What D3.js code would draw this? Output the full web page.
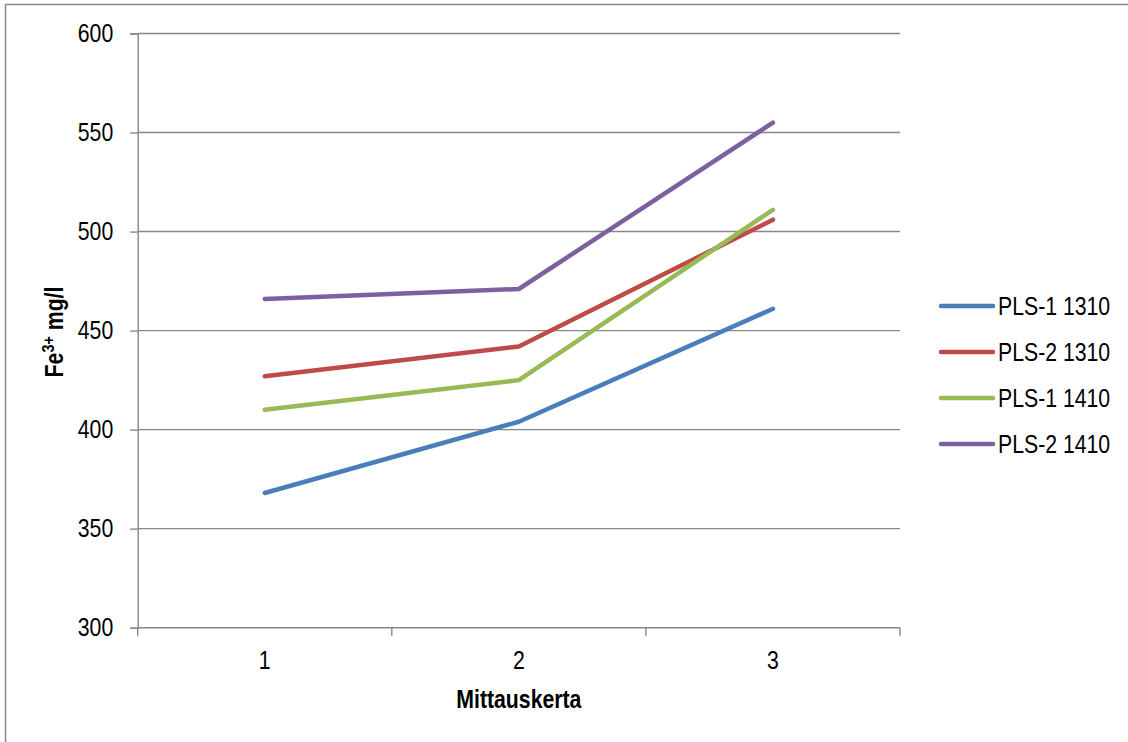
<!DOCTYPE html>
<html>
<head>
<meta charset="utf-8">
<script src="https://cdn.jsdelivr.net/npm/d3@7"></script>
<style>
  html, body { margin: 0; padding: 0; background: #fff; }
  svg { display: block; }
  text { font-family: "Liberation Sans Narrow", "Arial Narrow", "Liberation Sans", Arial, sans-serif; fill: #000; }
</style>
</head>
<body>
<svg id="chart" width="1128" height="742"></svg>
<script>
// Measurement rounds (x axis categories)
const categories = ["1", "2", "3"];
// Fe3+ concentration, mg/l, per series
const seriesNames = ["PLS-1 1310", "PLS-2 1310", "PLS-1 1410", "PLS-2 1410"];
const pls1_1310 = [368, 404, 461];
const pls2_1310 = [427, 442, 506];
const pls1_1410 = [410, 425, 511];
const pls2_1410 = [466, 471, 555];
const seriesColors = ["#4A7EBB", "#BE4B48", "#98B954", "#7D60A0"];
const yTicks = [300, 350, 400, 450, 500, 550, 600];

const series = [pls1_1310, pls2_1310, pls1_1410, pls2_1410].map((vals, i) => ({
  name: seriesNames[i], color: seriesColors[i], values: vals
}));

const svg = d3.select("#chart");
const W = 1128, H = 742;
const plot = { left: 137.7, right: 900, top: 33.5, bottom: 627.7 };
const gridColor = "#878787";
const fontSize = 25;
const narrow = 0.85; // horizontal condensing for a narrow-face look

// Squeeze a text horizontally around its anchor point
function condense(sel) {
  sel.each(function () {
    const t = d3.select(this);
    const tx = +t.attr("x") || 0, ty = +t.attr("y") || 0;
    const prev = t.attr("transform") || "";
    t.attr("x", 0).attr("y", 0)
      .attr("transform", `${prev} translate(${tx},${ty}) scale(${narrow},1)`);
  });
}

// Outer chart frame (only top and left edges fall within the canvas)
svg.append("rect")
  .attr("x", 5.5).attr("y", 4.5)
  .attr("width", W + 20).attr("height", H + 20)
  .attr("fill", "#fff").attr("stroke", gridColor).attr("stroke-width", 1.5);

const x = d3.scaleBand().domain(categories).range([plot.left, plot.right]);
const y = d3.scaleLinear().domain([300, 600]).range([plot.bottom, plot.top]);

// Horizontal gridlines
svg.append("g").selectAll("line").data(yTicks.filter(t => t !== 300)).join("line")
  .attr("x1", plot.left).attr("x2", plot.right)
  .attr("y1", d => y(d)).attr("y2", d => y(d))
  .attr("stroke", gridColor).attr("stroke-width", 1.4);

// Y axis
const yAxis = svg.append("g")
  .attr("transform", `translate(${plot.left},0)`)
  .call(d3.axisLeft(y).tickValues(yTicks).tickSize(7.5).tickPadding(17).tickFormat(d3.format("d")));
yAxis.select(".domain").attr("stroke", gridColor).attr("stroke-width", 1.4);
yAxis.selectAll(".tick line").attr("stroke", gridColor).attr("stroke-width", 1.4);
yAxis.selectAll(".tick text")
  .attr("font-size", fontSize).attr("font-family", null).attr("fill", "#000")
  .call(condense);

// X axis: ticks sit on the band boundaries, labels at band centres
const bounds = categories.map(c => x(c)).concat([x(categories[categories.length - 1]) + x.bandwidth()]);
const xAxisG = svg.append("g");
xAxisG.append("line")
  .attr("x1", plot.left).attr("x2", plot.right)
  .attr("y1", plot.bottom).attr("y2", plot.bottom)
  .attr("stroke", gridColor).attr("stroke-width", 1.4);
xAxisG.selectAll("line.tk").data(bounds).join("line").attr("class", "tk")
  .attr("x1", d => d).attr("x2", d => d)
  .attr("y1", plot.bottom).attr("y2", plot.bottom + 8)
  .attr("stroke", gridColor).attr("stroke-width", 1.4);
xAxisG.selectAll("text").data(categories).join("text")
  .attr("x", d => x(d) + x.bandwidth() / 2)
  .attr("y", 669)
  .attr("text-anchor", "middle")
  .attr("font-size", fontSize)
  .text(d => d)
  .call(condense);

// Axis titles
svg.append("text")
  .attr("x", (plot.left + plot.right) / 2).attr("y", 708)
  .attr("text-anchor", "middle").attr("font-weight", "bold").attr("font-size", fontSize)
  .text("Mittauskerta")
  .call(condense);

const yTitle = svg.append("text")
  .attr("transform", `translate(63,332) rotate(-90) scale(${narrow},1)`)
  .attr("text-anchor", "middle").attr("font-weight", "bold").attr("font-size", fontSize);
yTitle.append("tspan").text("Fe");
yTitle.append("tspan").attr("dy", -9).attr("font-size", 17).text("3+");
yTitle.append("tspan").attr("dy", 9).text(" mg/l");

// Series lines
const line = d3.line()
  .x((d, i) => x(categories[i]) + x.bandwidth() / 2)
  .y(d => y(d));
svg.append("g").selectAll("path").data(series).join("path")
  .attr("d", d => line(d.values))
  .attr("fill", "none")
  .attr("stroke", d => d.color)
  .attr("stroke-width", 4.5)
  .attr("stroke-linecap", "round")
  .attr("stroke-linejoin", "round");

// Legend
const legend = svg.append("g");
const legY = d3.scalePoint().domain(seriesNames).range([306, 444]);
const items = legend.selectAll("g").data(series).join("g")
  .attr("transform", d => `translate(0,${legY(d.name)})`);
items.append("line")
  .attr("x1", 941).attr("x2", 993).attr("y1", 0).attr("y2", 0)
  .attr("stroke", d => d.color).attr("stroke-width", 4.5).attr("stroke-linecap", "round");
items.append("text")
  .attr("x", 998).attr("y", 9)
  .attr("font-size", fontSize)
  .text(d => d.name)
  .call(condense);
</script>
</body>
</html>
